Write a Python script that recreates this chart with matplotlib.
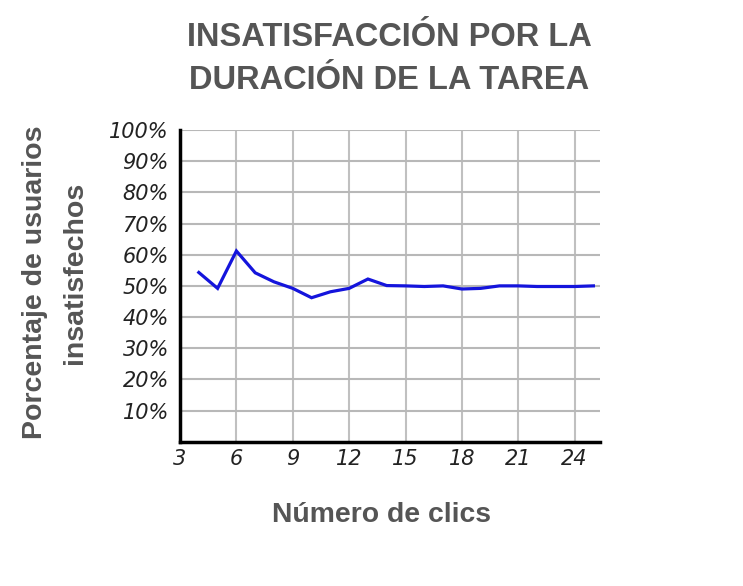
import matplotlib
matplotlib.use("Agg")
import matplotlib.pyplot as plt
from matplotlib.ticker import FuncFormatter

# datos
clics = [4, 5, 6, 7, 8, 9, 10, 11, 12, 13, 14, 15, 16, 17, 18, 19, 20, 21, 22, 23, 24, 25]
insatisfechos = [54.3, 49.2, 61.2, 54.2, 51.3, 49.2, 46.2, 48.1, 49.2, 52.2, 50.1, 50.0,
                 49.8, 50.0, 49.0, 49.2, 50.0, 50.0, 49.8, 49.8, 49.8, 50.0]
xticks = [3, 6, 9, 12, 15, 18, 21, 24]
yticks = [10, 20, 30, 40, 50, 60, 70, 80, 90, 100]

gris = "#555555"

fig = plt.figure(figsize=(7.43, 5.86), dpi=100)
ax = fig.add_axes([0.2423, 0.2463, 0.5652, 0.5317])

ax.plot(clics, insatisfechos, color="#1414dc", lw=2.3, solid_joinstyle="miter")

ax.set_xlim(3, 25.35)
ax.set_ylim(0, 100)
ax.set_xticks(xticks)
ax.set_yticks(yticks)
ax.yaxis.set_major_formatter(FuncFormatter(lambda v, p: "%d%%" % v))

# rejilla
for x in xticks[1:]:
    ax.axvline(x, color="#c0c0c0", lw=1.5, zorder=0)
for y in yticks:
    ax.axhline(y, color="#b8b8b8", lw=1.5, zorder=0)

for s in ["top", "right"]:
    ax.spines[s].set_visible(False)
ax.spines["left"].set_linewidth(2.5)
ax.spines["bottom"].set_linewidth(2.5)
ax.tick_params(axis="y", length=0, pad=8)
ax.tick_params(axis="x", length=0, pad=5)
for lab in ax.get_xticklabels() + ax.get_yticklabels():
    lab.set_fontsize(15)
    lab.set_fontstyle("italic")
    lab.set_color("#222222")

# titulo y etiquetas
fig.text(0.524, 0.936, "INSATISFACCIÓN POR LA", ha="center", va="center",
         fontsize=23.5, fontweight="bold", color=gris, family="Liberation Sans")
fig.text(0.524, 0.862, "DURACIÓN DE LA TAREA", ha="center", va="center",
         fontsize=23.5, fontweight="bold", color=gris, family="Liberation Sans")

fig.text(0.047, 0.519, "Porcentaje de usuarios", rotation=90, ha="center", va="center",
         fontsize=20.5, fontweight="bold", color=gris, family="Liberation Sans")
fig.text(0.101, 0.534, "insatisfechos", rotation=90, ha="center", va="center",
         fontsize=20.5, fontweight="bold", color=gris, family="Liberation Sans")
fig.text(0.513, 0.121, "Número de clics", ha="center", va="center",
         fontsize=20.4, fontweight="bold", color=gris, family="Liberation Sans")

fig.savefig("out.png", dpi=100)
